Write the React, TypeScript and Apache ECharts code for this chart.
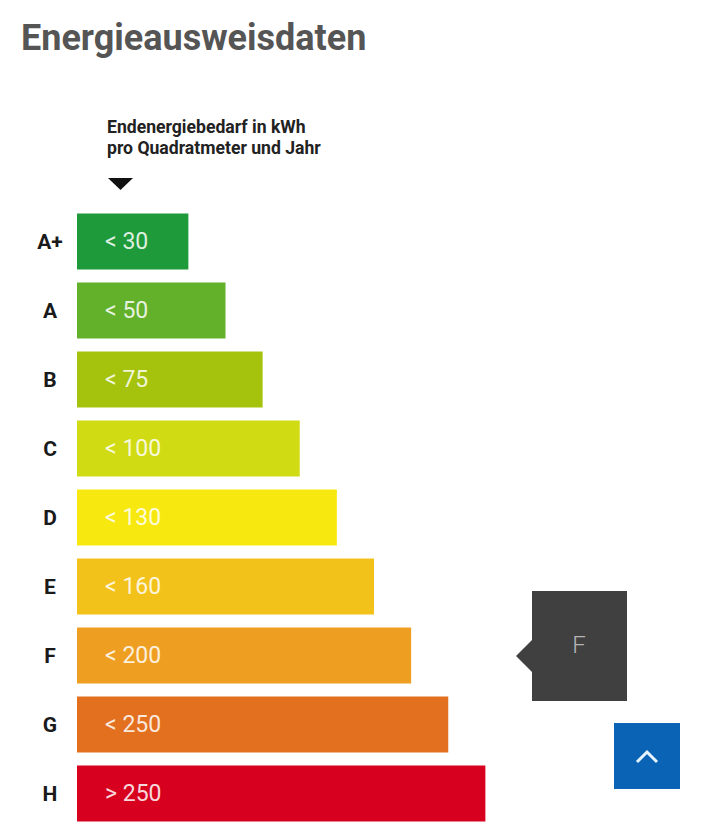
import React, { useEffect, useRef } from "react";
import * as echarts from "echarts";

const classes = ["A+", "A", "B", "C", "D", "E", "F", "G", "H"];
const rangeLabels = ["< 30", "< 50", "< 75", "< 100", "< 130", "< 160", "< 200", "< 250", "> 250"];
const barLengths = [3, 4, 5, 6, 7, 8, 9, 10, 11];
const barColors = ["#1f9a3b", "#63b12a", "#a5c30c", "#d0db14", "#f7e90f", "#f3c21a", "#ee9f22", "#e3701e", "#d7011f"];
const currentClass = "F";

export default function App() {
  const ref = useRef<HTMLDivElement>(null);
  useEffect(() => {
    if (!ref.current) return;
    const chart = echarts.init(ref.current, null, { renderer: "svg" });
    chart.setOption({
      animation: false,
      grid: { left: 77, top: 207, width: 594, height: 621 },
      xAxis: { type: "value", min: 0, max: 16, show: false },
      yAxis: {
        type: "category",
        inverse: true,
        data: classes,
        axisLine: { show: false },
        axisTick: { show: false },
        splitLine: { show: false },
        axisLabel: {
          align: "center",
          margin: 27,
          fontSize: 21,
          fontWeight: "bold",
          color: "#1a1a1a",
          fontFamily: "Roboto, sans-serif",
        },
      },
      series: [
        {
          type: "bar",
          barWidth: 56,
          data: barLengths.map((v, i) => ({
            value: v,
            itemStyle: { color: barColors[i] },
            label: {
              show: true,
              position: "insideLeft",
              distance: 28,
              formatter: rangeLabels[i],
              color: "rgba(255,255,255,0.85)",
              fontSize: 23,
              fontFamily: "Roboto, sans-serif",
            },
          })),
        },
      ],
      graphic: [
        {
          type: "text",
          left: 21,
          top: 20,
          style: {
            text: "Energieausweisdaten",
            font: "bold 36px Roboto, sans-serif",
            fill: "#555555",
          },
        },
        {
          type: "text",
          left: 107,
          top: 116,
          style: {
            text: "Endenergiebedarf in kWh\npro Quadratmeter und Jahr",
            font: "bold 17.6px Roboto, sans-serif",
            lineHeight: 21,
            fill: "#222222",
          },
        },
        {
          type: "polygon",
          shape: { points: [[108, 178], [133, 178], [120.5, 190]] },
          style: { fill: "#111111" },
        },
        {
          type: "rect",
          shape: { x: 532, y: 591, width: 95, height: 110 },
          style: { fill: "#404040" },
        },
        {
          type: "polygon",
          shape: { points: [[533, 639], [516, 656], [533, 673]] },
          style: { fill: "#404040" },
        },
        {
          type: "text",
          x: 579,
          y: 645,
          style: {
            text: currentClass,
            font: "300 24px Roboto, sans-serif",
            fill: "#b5b5b5",
            align: "center",
            verticalAlign: "middle",
          },
        },
        {
          type: "rect",
          shape: { x: 614, y: 723, width: 66, height: 66 },
          style: { fill: "#0a63b5" },
        },
        {
          type: "polyline",
          shape: { points: [[637, 762], [647, 752], [657, 762]] },
          style: { stroke: "#e6f4ff", lineWidth: 3, fill: "none" },
        },
      ],
    });
    return () => chart.dispose();
  }, []);
  return (
    <div
      ref={ref}
      style={{ position: "absolute", left: 0, top: 0, width: 720, height: 840, background: "#ffffff" }}
    />
  );
}
